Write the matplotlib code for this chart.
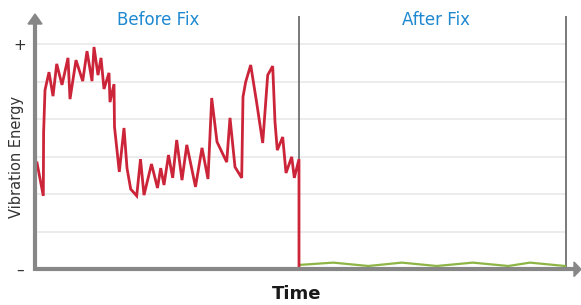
import matplotlib
matplotlib.use("Agg")
import matplotlib.pyplot as plt
from matplotlib.patches import Polygon

# ---- data (time steps, vibration energy in gridline units) ----
before_t = [1, 7.3, 7.6, 9, 13, 17, 20.7, 26, 32, 34, 40, 46.7, 51, 56, 58, 62, 65, 68,
            73, 74, 78, 78.5, 83.3, 88, 91, 94.7, 100.7, 104.5, 108, 115.5, 121.5, 124.7,
            128, 132.5, 136.7, 140.7, 146, 150.8, 159.5, 166, 172, 175.7, 181, 190.7, 194,
            199, 205.7, 207, 209.7, 214.7, 220.7, 226.7, 231.7, 236.7, 239, 241.3, 246.7,
            250, 255.7, 258.3, 263, 263]
before_v = [2.83, 1.95, 3.63, 4.77, 5.25, 4.61, 5.47, 4.91, 5.63, 4.53, 5.57, 5.01, 5.81,
            5.01, 5.92, 5.17, 5.63, 4.80, 5.23, 4.45, 4.93, 3.79, 2.59, 3.76, 2.69, 2.13,
            1.95, 2.93, 1.97, 2.80, 2.16, 2.69, 2.24, 3.04, 2.43, 3.44, 2.37, 3.31, 2.19,
            3.23, 2.40, 4.56, 3.39, 2.85, 4.03, 2.72, 2.43, 4.59, 4.99, 5.44, 4.43, 3.36,
            5.17, 5.41, 3.92, 3.17, 3.52, 2.56, 2.99, 2.43, 2.93, 0.0]
after_t = [264, 297.3, 332.3, 365.7, 400.7, 436.7, 472.3, 494, 529]
after_v = [0.11, 0.17, 0.08, 0.17, 0.08, 0.17, 0.08, 0.17, 0.08]
gridlines = [1, 2, 3, 4, 5, 6]
fix_t = 263
end_t = 530
titles = ["Before Fix", "After Fix"]
x_label = "Time"
y_label = "Vibration Energy"
y_ticks_text = ["+", "\u2013"]

W, H = 581, 305
fig = plt.figure(figsize=(W / 100, H / 100), dpi=100)

# axes: px 30..581 horizontally, py 10..275 vertically
PX0, PX1 = 30, 581
PY_TOP, PY_BOT = 10, 275
XS = 1.0           # px per time unit
YS = 37.5          # px per energy unit
X_ORIG_PX = 36
Y_ORIG_PY = 269

ax = fig.add_axes([PX0 / W, (H - PY_BOT) / H, (PX1 - PX0) / W, (PY_BOT - PY_TOP) / H])
ax.set_xlim((PX0 - X_ORIG_PX) / XS, (PX1 - X_ORIG_PX) / XS)
ax.set_ylim((Y_ORIG_PY - PY_BOT) / YS, (Y_ORIG_PY - PY_TOP) / YS)
ax.axis("off")

def tx(px):
    return (px - X_ORIG_PX) / XS

def vy(py):
    return (Y_ORIG_PY - py) / YS

# gridlines
ax.hlines(gridlines, tx(37), end_t, color="#ebebeb", lw=1.3, zorder=1)

# vertical separators
ax.vlines([fix_t, end_t], 0, vy(16), color="#555555", lw=1.1, zorder=2)

# series
ax.plot(after_t, after_v, color="#8db545", lw=1.6, zorder=3, solid_joinstyle="round")
ax.plot(before_t, before_v, color="#cc2439", lw=2.0, zorder=4, solid_joinstyle="miter")

# axis lines with arrows
axis_col = "#878787"
ax.plot([tx(35), tx(35)], [vy(271), vy(23)], color=axis_col, lw=3.0,
        solid_capstyle="butt", zorder=5, clip_on=False)
ax.plot([tx(33.5), tx(575)], [vy(269.3), vy(269.3)], color=axis_col, lw=3.0,
        solid_capstyle="butt", zorder=5, clip_on=False)
ax.add_patch(Polygon([[tx(28), vy(24)], [tx(42), vy(24)], [tx(35), vy(14)]],
                     closed=True, color=axis_col, zorder=5, clip_on=False))
ax.add_patch(Polygon([[tx(574), vy(262)], [tx(574), vy(276.5)], [tx(581), vy(269.3)]],
                     closed=True, color=axis_col, zorder=5, clip_on=False))

def ft(x, y, s, **kw):
    fig.text(x / W, 1 - y / H, s, **kw)

ft(158.5, 25, titles[0], ha="center", va="baseline", fontsize=12, color="#1e88d0")
ft(436, 25, titles[1], ha="center", va="baseline", fontsize=12, color="#1e88d0")
ft(297, 299, x_label, ha="center", va="baseline", fontsize=13, fontweight="bold", color="#1a1a1a")
ft(17, 157, y_label, ha="center", va="center", rotation=90, fontsize=10.5, color="#333333")
ft(20, 45, y_ticks_text[0], ha="center", va="center", fontsize=11, color="#333333")
ft(20, 270, y_ticks_text[1], ha="center", va="center", fontsize=11, color="#333333")

fig.savefig("out.png", dpi=100)
